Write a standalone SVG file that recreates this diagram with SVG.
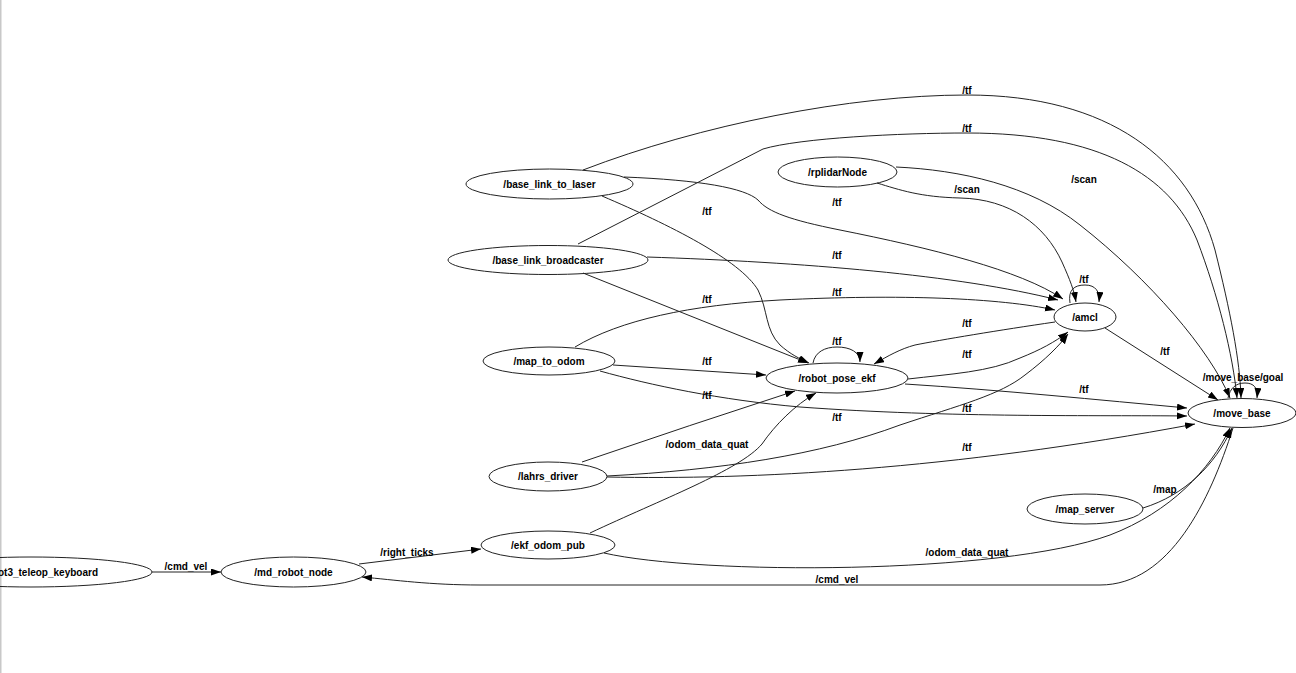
<svg xmlns="http://www.w3.org/2000/svg" width="1296" height="673" viewBox="0 0 1296 673">
<style>
.n ellipse{fill:none;stroke:#222;stroke-width:1}
text{font-family:"Liberation Sans",Arial,sans-serif;font-size:10px;font-weight:bold;fill:#000;text-anchor:middle}
.e path{fill:none;stroke:#222;stroke-width:1;marker-end:url(#ah)}
</style>
<defs>
<marker id="ah" markerUnits="userSpaceOnUse" markerWidth="11" markerHeight="8" refX="10" refY="3.5" orient="auto">
<path d="M0,0 L10,3.5 L0,7 z" fill="#000" stroke="none"/>
</marker>
</defs>
<rect x="0" y="0" width="1296" height="673" fill="#fff"/>
<rect x="0" y="0" width="1.5" height="673" fill="#c8c8c8"/>
<g class="e" id="connectors">
<path d="M152,572 L221,572"/>
<path d="M359,564 L481,549"/>
<path d="M1233,428 C1210,500 1170,585 1100,585 L480,585 C430,585 395,580 362,577"/>
<path d="M604,553 C700,575 1000,575 1110,535 C1170,512 1210,470 1230,428"/>
<path d="M590,533 C660,500 740,470 762,444 C775,425 795,405 816,393"/>
<path d="M1143,508 C1185,495 1215,465 1232,428"/>
<path d="M583,170 C700,125 850,95 967,95 C1110,95 1190,160 1215,250 C1230,310 1240,360 1241,398"/>
<path d="M578,244 L763,149 C800,138 900,133 967,133 C1100,133 1170,175 1197,240 C1218,295 1233,355 1237,398"/>
<path d="M896,167 C960,170 1030,185 1080,225 C1150,280 1210,350 1230,398"/>
<path d="M877,183 C900,190 920,197 960,198 C1010,199 1045,225 1062,262 C1070,280 1074,290 1076,302"/>
<path d="M624,177 C700,180 745,188 758,200 C768,212 790,220 840,230 C930,248 1020,270 1063,299"/>
<path d="M602,196 C670,225 740,260 758,290 C768,310 765,330 780,345 C790,354 800,359 809,363"/>
<path d="M647,257 C800,262 960,275 1058,300"/>
<path d="M583,273 L808,363"/>
<path d="M575,347 C620,320 690,305 780,300 C900,294 1000,298 1055,310"/>
<path d="M613,365 L766,375"/>
<path d="M600,371 C650,385 720,400 800,407 C950,418 1100,415 1187,416"/>
<path d="M1070,303 C1068,290 1074,285 1085,285 C1096,285 1100,292 1099,302"/>
<path d="M1055,322 C1000,330 940,340 915,345 C900,349 888,356 874,364"/>
<path d="M908,379 C950,374 990,372 1020,358 C1040,350 1055,342 1068,332"/>
<path d="M607,476 C720,470 820,455 900,425 C960,405 1000,395 1025,375 C1045,360 1060,345 1068,334"/>
<path d="M582,462 Q690,425 795,391"/>
<path d="M607,477 C750,480 950,470 1195,424"/>
<path d="M813,363 C815,352 825,347 837,347 C850,347 860,352 860,362"/>
<path d="M905,384 C1000,390 1100,400 1187,408"/>
<path d="M1105,328 L1218,400"/>
<path d="M1228,398 C1230,388 1236,383 1245,383 C1254,383 1258,388 1257,398"/>
</g>
<g id="edge-labels">
<text x="967" y="93.5">/tf</text>
<text x="967" y="131.5">/tf</text>
<text x="1084" y="182.5">/scan</text>
<text x="967" y="192.5">/scan</text>
<text x="707" y="214.5">/tf</text>
<text x="837" y="205.5">/tf</text>
<text x="837" y="259">/tf</text>
<text x="707" y="302.5">/tf</text>
<text x="837" y="295.5">/tf</text>
<text x="1084" y="283">/tf</text>
<text x="967" y="326.5">/tf</text>
<text x="837" y="344.5">/tf</text>
<text x="1165" y="354.5">/tf</text>
<text x="967" y="358">/tf</text>
<text x="707" y="365">/tf</text>
<text x="1243" y="380.5">/move_base/goal</text>
<text x="1084" y="392.5">/tf</text>
<text x="707" y="398.5">/tf</text>
<text x="967" y="411.5">/tf</text>
<text x="837" y="420.5">/tf</text>
<text x="707" y="447.5">/odom_data_quat</text>
<text x="967" y="450.5">/tf</text>
<text x="1165" y="492.5">/map</text>
<text x="967" y="555.5">/odom_data_quat</text>
<text x="407" y="555.5">/right_ticks</text>
<text x="186" y="569.5">/cmd_vel</text>
<text x="837" y="582.5">/cmd_vel</text>
</g>
<g class="n" id="turtlebot3_teleop_keyboard"><ellipse cx="31" cy="572" rx="121" ry="15"/><text x="98" y="575.5" style="text-anchor:end">/turtlebot3_teleop_keyboard</text></g>
<g class="n" id="md_robot_node"><ellipse cx="293.5" cy="572" rx="72.5" ry="15"/><text x="293.5" y="575.5">/md_robot_node</text></g>
<g class="n" id="ekf_odom_pub"><ellipse cx="548" cy="545" rx="67" ry="14"/><text x="548" y="548.5">/ekf_odom_pub</text></g>
<g class="n" id="base_link_to_laser"><ellipse cx="549.5" cy="184" rx="83.5" ry="15"/><text x="549.5" y="187.5">/base_link_to_laser</text></g>
<g class="n" id="base_link_broadcaster"><ellipse cx="548" cy="260" rx="100" ry="14.5"/><text x="548" y="263.5">/base_link_broadcaster</text></g>
<g class="n" id="rplidarNode"><ellipse cx="837.5" cy="172" rx="59.5" ry="15"/><text x="837.5" y="175.5">/rplidarNode</text></g>
<g class="n" id="map_to_odom"><ellipse cx="549" cy="361" rx="66" ry="14"/><text x="549" y="364.5">/map_to_odom</text></g>
<g class="n" id="robot_pose_ekf"><ellipse cx="837" cy="378" rx="71" ry="15"/><text x="837" y="381.5">/robot_pose_ekf</text></g>
<g class="n" id="lahrs_driver"><ellipse cx="548" cy="476.5" rx="59" ry="14.5"/><text x="548" y="480">/lahrs_driver</text></g>
<g class="n" id="amcl"><ellipse cx="1085" cy="317" rx="31" ry="14"/><text x="1085" y="320.5">/amcl</text></g>
<g class="n" id="move_base"><ellipse cx="1242" cy="413" rx="54" ry="14.5"/><text x="1242" y="416.5">/move_base</text></g>
<g class="n" id="map_server"><ellipse cx="1085" cy="509" rx="58" ry="15"/><text x="1085" y="512.5">/map_server</text></g>
</svg>
